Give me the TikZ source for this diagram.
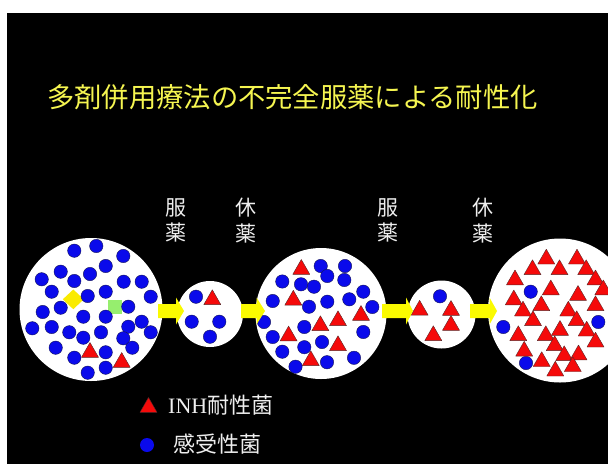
\documentclass[tikz,border=0pt]{standalone}
\usepackage{fontspec}
\newfontfamily\jpfont{Noto Sans CJK JP}
\newfontfamily\latinserif{Liberation Serif}
\definecolor{titleyellow}{RGB}{245,245,80}
\definecolor{labelwhite}{RGB}{238,238,238}
\definecolor{senscol}{RGB}{10,10,235}
\definecolor{sensedge}{RGB}{20,20,90}
\definecolor{rescol}{RGB}{245,10,10}
\definecolor{resedge}{RGB}{90,40,40}
\definecolor{arrowcol}{RGB}{250,250,0}
\definecolor{diamondcol}{RGB}{250,235,0}
\definecolor{squarecol}{RGB}{150,238,110}
\begin{document}
\begin{tikzpicture}[x=1pt,y=-1pt,
  colony/.style={fill=white},
  bug/.pic={\filldraw[fill=senscol,draw=sensedge,line width=0.4pt] (0,0) circle (6.7pt);},
  res/.pic={\filldraw[fill=rescol,draw=resedge,line width=0.4pt,line join=round]
      (-8.5,7.3) -- (8.5,7.3) -- (0,-7.5) -- cycle;},
  phase/.style={text=labelwhite,font=\jpfont\fontsize{21}{25.5}\selectfont,align=center,inner sep=0pt},
  legendtext/.style={text=labelwhite,font=\jpfont\fontsize{22}{26}\selectfont,anchor=west,inner sep=0pt}
]
\newcommand\blockarrow[3]{%
  \fill[arrowcol] (#1,304) -- (#2,304) -- (#2,297.5) -- (#3,311) -- (#2,324.5) -- (#2,318) -- (#1,318) -- cycle;}
\useasboundingbox (0,0) rectangle (608,464);
\fill[white] (0,0) rectangle (608,464);
\fill[black] (7,12.5) rectangle (608,464);

% title
\node[text=titleyellow,font=\jpfont\fontsize{27.3}{30}\selectfont,inner sep=0pt] (title) at (292.5,97.5)
  {多剤併用療法の不完全服薬による耐性化};

% phase labels
\node[phase] (take1) at (175.5,220.5) {服\\薬};
\node[phase] (rest1) at (246,220.5) {休\\薬};
\node[phase] (take2) at (388,220.5) {服\\薬};
\node[phase] (rest2) at (482.5,220.5) {休\\薬};

% colonies
\fill[colony] (91,309.5) circle (71.5pt);
\fill[colony] (210,314) circle (33pt);
\fill[colony] (321,313.5) circle (65.5pt);
\fill[colony] (441.5,314.5) circle (34pt);
\fill[colony] (560,310.5) circle (72pt);

% first colony: markers
\fill[diamondcol] (73.3,289.5) -- (83.8,299.3) -- (73.3,309.2) -- (62.8,299.3) -- cycle;
\fill[squarecol] (108.3,300) rectangle (121.7,314.2);
\foreach \p in {(74.3,250.7),(96.3,246),(123.3,256),(60.7,271.7),(105.7,266),(41.7,279.3),
  (74.3,281),(90,274),(123.7,281.7),(141.7,281.7),(51.7,291.7),(105.7,291.7),(87.7,296),
  (150.7,296.7),(42.7,312),(60.7,307.7),(128.3,306.7),(83.3,316.7),(105.7,316.7),
  (141.7,321.7),(32.3,328.3),(51.7,327),(69.3,332.3),(101,332.3),(128.3,326.7),
  (150.7,332.3),(83.3,337.7),(123.3,338.3),(55.7,347.7),(132.3,347.7),(105.7,352.3),
  (74.3,357.7),(105.7,367.7),(87.7,372.7)}
  \pic at \p {bug};
\foreach \p in {(90,350),(121.7,360)} \pic at \p {res};

% second colony
\foreach \p in {(196,296.7),(191.7,321.7),(219.3,321.7),(210,336.7)} \pic at \p {bug};
\pic at (212.3,297.3) {res};

% third colony
\foreach \p in {(320.7,266),(345,266),(282.3,281.5),(327.3,276),(344.3,280),(301,284.3),
  (314,286.7),(363.3,291.7),(272.7,301),(327.3,301.7),(349.3,299.3),(309,306.7),
  (372.3,307),(264,322),(304.3,327),(363.3,332),(272.7,337),(322,342),(282.3,351.7),
  (304.3,347.2),(327,362.2),(354,357.8),(295.5,366.7)}
  \pic at \p {bug};
\foreach \p in {(301.3,267),(293.3,297.8),(320.4,323.3),(338,318.3),(361,313),(288.6,333.6),
  (338,343.3),(310.8,358.3)}
  \pic at \p {res};

% fourth colony
\pic at (440,296.3) {bug};
\foreach \p in {(419.6,307.8),(451,308),(451,323),(433.3,333.3)} \pic at \p {res};

% fifth colony
\foreach \p in {(530.7,291.7),(503.3,327),(598.3,322),(526,363)} \pic at \p {bug};
\foreach \p in {(546.3,256.7),(577,256.7),(532.5,267.3),(559.5,267.3),(586.2,267.3),
  (515,277.5),(595.5,277.5),(603.3,287.5),(550.8,287.5),(578,293),(513.8,297.5),
  (541.3,303.3),(595.5,303.3),(523,308.7),(568.3,308.7),(533,318.3),(576.7,318.3),
  (560,328),(518.3,333.3),(545.8,333.3),(586.7,328.7),(595.5,339.7),(554.7,343.3),
  (524.2,348.8),(564.2,353.3),(578.5,352.5),(541.7,359.2),(572.8,364.2),(555.3,368.7)}
  \pic at \p {res};

% transition arrows
\blockarrow{158}{176}{184}
\blockarrow{241}{256.5}{265}
\blockarrow{382}{406}{413}
\blockarrow{470}{489.5}{497}

% legend
\pic at (148.5,405) {res};
\node[legendtext] (reslabel) at (168,405.5) {{\latinserif INH}耐性菌};
\fill[senscol] (147,445) circle (7pt);
\node[legendtext] (senslabel) at (173,444.5) {感受性菌};
\end{tikzpicture}
\end{document}
